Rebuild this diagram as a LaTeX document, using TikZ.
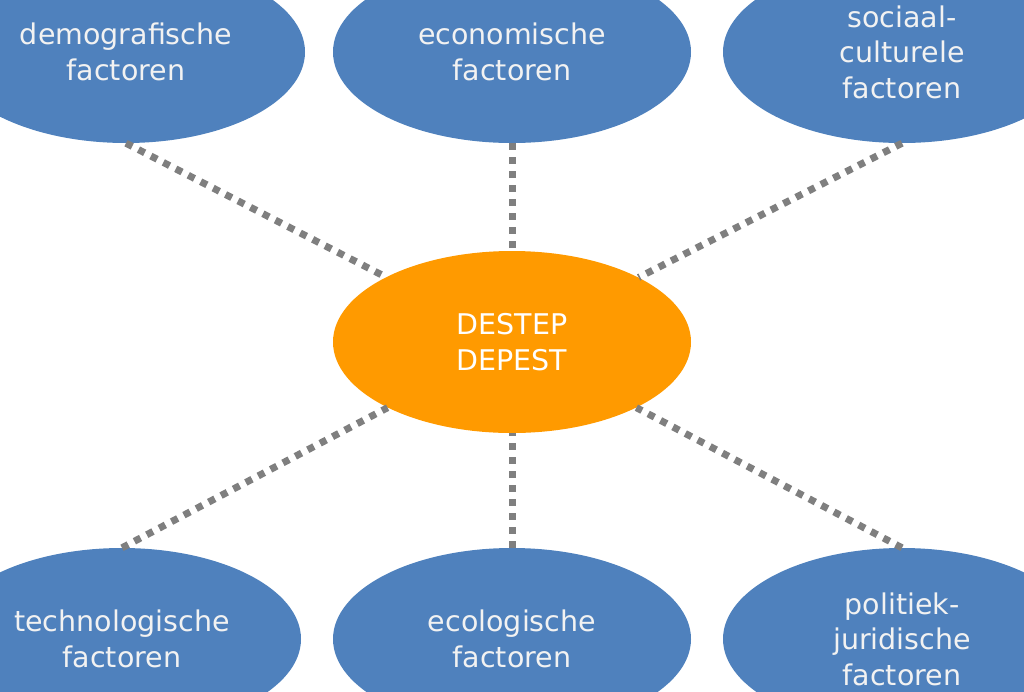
\documentclass[tikz,border=0pt]{standalone}
\usepackage{fontspec}
\setmainfont{DejaVu Sans}
\usetikzlibrary{shapes.geometric}
\definecolor{factorblue}{HTML}{4F81BD}
\definecolor{coreorange}{HTML}{FF9A00}
\definecolor{linkgray}{HTML}{7F7F7F}
\definecolor{labelwhite}{HTML}{F2F2F2}

\begin{document}
\begin{tikzpicture}[x=1pt,y=-1pt,
    factor/.style={ellipse,fill=factorblue,minimum width=358pt,minimum height=182pt,
                   inner sep=0pt,align=center,text=labelwhite,
                   font=\fontsize{28.5}{35.5}\selectfont},
    core/.style={factor,fill=coreorange,text=white},
    link/.style={linkgray,line width=7pt,dash pattern=on 7pt off 7pt}]
    \useasboundingbox (0,0) rectangle (1024,691);
    % centre
    \node [core] (destep) at (512,342) {DESTEP\\DEPEST};
    % top row
    \node [factor] (demo) at (126,52)  {demografische\\factoren};
    \node [factor] (econ) at (512,52)  {economische\\factoren};
    \node [factor] (soc)  at (902,52)  {sociaal-\\culturele\\factoren};
    % bottom row
    \node [factor] (tech) at (122,639) {technologische\\factoren};
    \node [factor] (eco)  at (512,639) {ecologische\\factoren};
    \node [factor] (pol)  at (902,639) {politiek-\\juridische\\factoren};
    % dotted links
    \foreach \f in {demo,econ,soc}
        \draw [link] (\f.south) -- (destep);
    \foreach \f in {tech,eco,pol}
        \draw [link] (\f.north) -- (destep);
\end{tikzpicture}
\end{document}
